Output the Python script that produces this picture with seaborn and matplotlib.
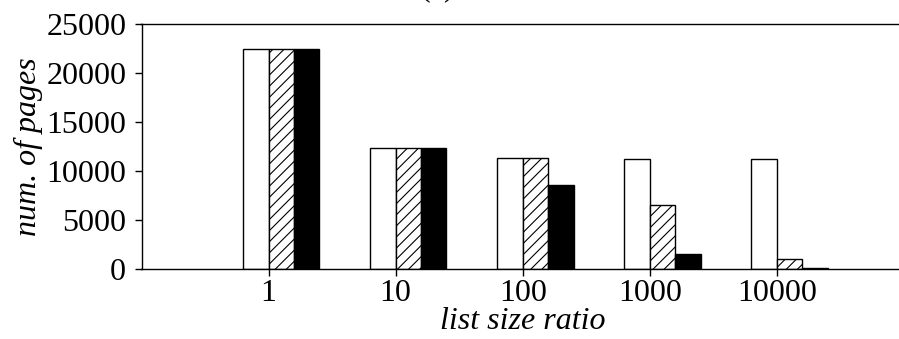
import matplotlib
matplotlib.use("Agg")
import matplotlib.pyplot as plt
import seaborn as sns
import pandas as pd

# list size ratios on the x axis
ratios = ["1", "10", "100", "1000", "10000"]
# number of pages for each of the three variants
series_a = [22420, 12330, 11310, 11210, 11210]
series_b = [22420, 12330, 11310, 6580, 1020]
series_c = [22420, 12330, 8590, 1530, 160]
series_names = ["A", "B", "C"]
y_ticks = [0, 5000, 10000, 15000, 20000, 25000]

rows = []
for name, vals in zip(series_names, [series_a, series_b, series_c]):
    for r, v in zip(ratios, vals):
        rows.append({"ratio": r, "series": name, "pages": v})
df = pd.DataFrame(rows)

sns.set_theme(style="ticks")
plt.rcParams["font.family"] = ["Liberation Serif", "DejaVu Serif"]
plt.rcParams["text.color"] = "black"
plt.rcParams["axes.labelcolor"] = "black"
plt.rcParams["hatch.linewidth"] = 0.8
plt.rcParams["hatch.color"] = "black"

FS = 23

fig = plt.figure(figsize=(8.99, 3.39), dpi=100)
ax = fig.add_axes([141.5 / 899, (339 - 269.3) / 339, (904 - 141.5) / 899, (269.3 - 24) / 339])

sns.barplot(data=df, x="ratio", y="pages", hue="series", order=ratios,
            hue_order=series_names, palette=["white", "white", "black"],
            edgecolor="black", linewidth=1.0, width=0.6, gap=0,
            errorbar=None, legend=False, ax=ax, zorder=2)

for patch in ax.containers[1].patches:
    patch.set_hatch("///")

ax.set_xlim(-1.1, 4.9)
ax.set_ylim(0, 25000)
ax.set_yticks(y_ticks)
ax.set_yticklabels([str(t) for t in y_ticks])
ax.set_xticks([i - 0.1 for i in range(len(ratios))])
ax.set_xticklabels(ratios)

for side in ["left", "top", "bottom", "right"]:
    ax.spines[side].set_visible(True)
    ax.spines[side].set_color("black")
    ax.spines[side].set_linewidth(1.0)

ax.tick_params(axis="both", direction="out", length=5, width=1.0,
               colors="black", labelsize=FS)
ax.tick_params(axis="y", pad=6)
ax.tick_params(axis="x", pad=2)

ax.set_xlabel("list size ratio", fontsize=FS, style="italic", labelpad=-1,
              color="black")
ax.set_ylabel("num. of pages", fontsize=FS, style="italic", labelpad=2,
              color="black")

fig.text(437 / 899, 1.013, "(a)", fontsize=FS, ha="center", va="baseline",
         color="black")

fig.savefig("out.png", dpi=100)
